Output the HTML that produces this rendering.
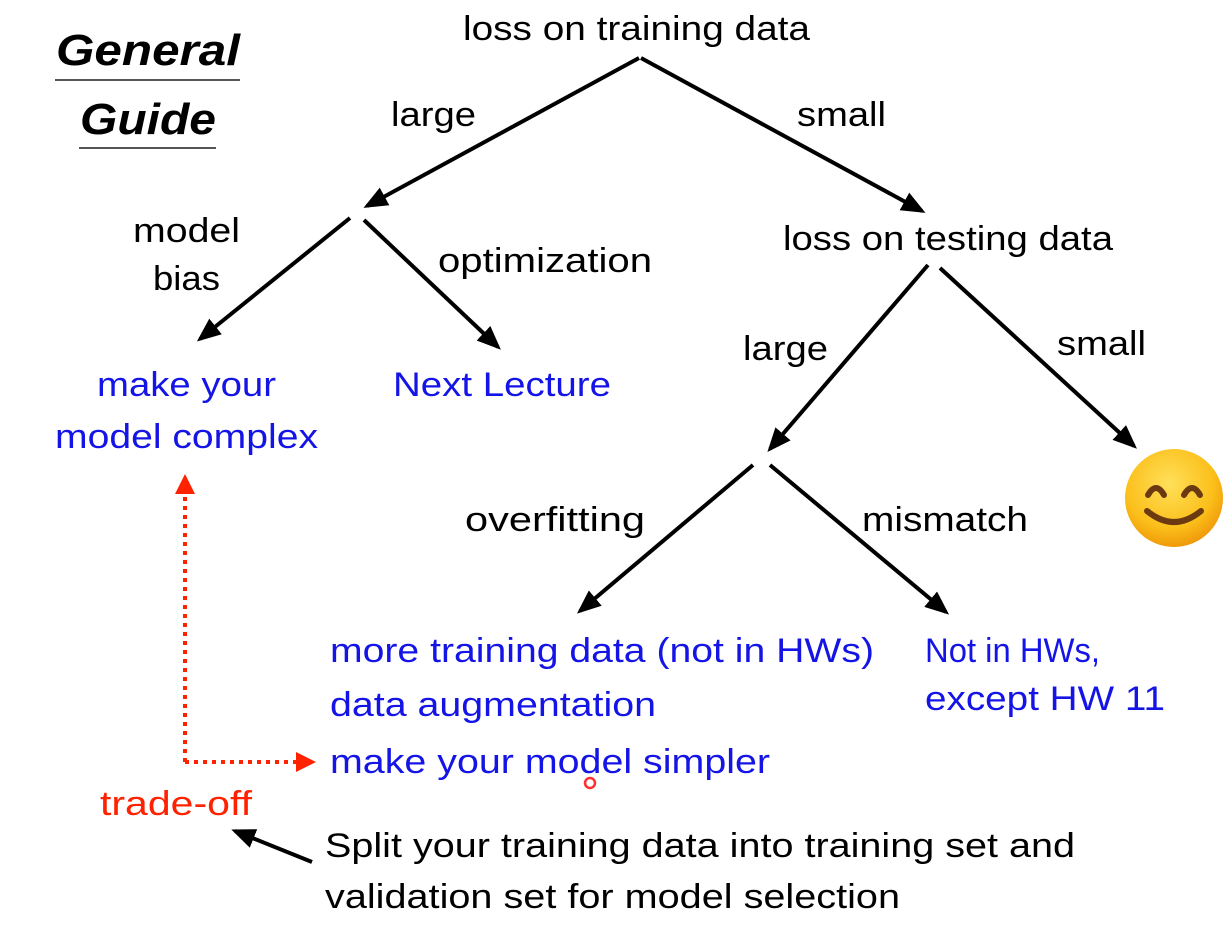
<!DOCTYPE html>
<html><head><meta charset="utf-8"><style>
html,body{margin:0;padding:0;background:#fff;}
svg{display:block;}
text{font-family:"Liberation Sans",sans-serif;}
</style></head><body>
<svg width="1229" height="932" viewBox="0 0 1229 932" xmlns="http://www.w3.org/2000/svg">
<defs>
<marker id="ah" markerWidth="6" markerHeight="6" refX="5" refY="3" orient="auto" markerUnits="strokeWidth"><path d="M0,0.5 L6,3 L0,5.5 z" fill="#000"/></marker>
<marker id="rh" markerWidth="5" markerHeight="5" refX="4" refY="2.5" orient="auto" markerUnits="strokeWidth"><path d="M0,0 L5,2.5 L0,5 z" fill="#ff2200"/></marker>
<radialGradient id="eg" cx="45%" cy="35%" r="65%"><stop offset="0" stop-color="#ffe05a"/><stop offset="0.7" stop-color="#fbbf1a"/><stop offset="1" stop-color="#f09a0a"/></radialGradient>
</defs>
<!-- title -->
<text x="56" y="65" font-size="44" font-weight="bold" font-style="italic" textLength="184" lengthAdjust="spacingAndGlyphs">General</text>
<line x1="55" y1="80" x2="240" y2="80" stroke="#555" stroke-width="2"/>
<text x="80" y="134" font-size="44" font-weight="bold" font-style="italic" textLength="136" lengthAdjust="spacingAndGlyphs">Guide</text>
<line x1="79" y1="148" x2="216" y2="148" stroke="#555" stroke-width="2"/>

<g font-size="34" fill="#000">
<text x="463" y="40" textLength="347" lengthAdjust="spacingAndGlyphs">loss on training data</text>
<text x="391" y="126" textLength="85" lengthAdjust="spacingAndGlyphs">large</text>
<text x="797" y="126" textLength="89" lengthAdjust="spacingAndGlyphs">small</text>
<text x="133" y="242" textLength="107" lengthAdjust="spacingAndGlyphs">model</text>
<text x="153" y="290" textLength="67" lengthAdjust="spacingAndGlyphs">bias</text>
<text x="438" y="272" textLength="214" lengthAdjust="spacingAndGlyphs">optimization</text>
<text x="783" y="250" textLength="330" lengthAdjust="spacingAndGlyphs">loss on testing data</text>
<text x="743" y="360" textLength="85" lengthAdjust="spacingAndGlyphs">large</text>
<text x="1057" y="355" textLength="89" lengthAdjust="spacingAndGlyphs">small</text>
<text x="465" y="531" textLength="180" lengthAdjust="spacingAndGlyphs">overfitting</text>
<text x="862" y="531" textLength="166" lengthAdjust="spacingAndGlyphs">mismatch</text>
<text x="325" y="857" textLength="750" lengthAdjust="spacingAndGlyphs">Split your training data into training set and</text>
<text x="325" y="908" textLength="575" lengthAdjust="spacingAndGlyphs">validation set for model selection</text>
</g>
<g font-size="34" fill="#1414e6">
<text x="97" y="396" textLength="179" lengthAdjust="spacingAndGlyphs">make your</text>
<text x="55" y="448" textLength="263" lengthAdjust="spacingAndGlyphs">model complex</text>
<text x="393" y="396" textLength="218" lengthAdjust="spacingAndGlyphs">Next Lecture</text>
<text x="330" y="662" textLength="544" lengthAdjust="spacingAndGlyphs">more training data (not in HWs)</text>
<text x="330" y="716" textLength="326" lengthAdjust="spacingAndGlyphs">data augmentation</text>
<text x="330" y="773" textLength="440" lengthAdjust="spacingAndGlyphs">make your model simpler</text>
<text x="925" y="662" textLength="175" lengthAdjust="spacingAndGlyphs">Not in HWs,</text>
<text x="925" y="710" textLength="240" lengthAdjust="spacingAndGlyphs">except HW 11</text>
</g>
<text x="100" y="815" font-size="34" fill="#ff2200" textLength="152" lengthAdjust="spacingAndGlyphs">trade-off</text>

<g stroke="#000" stroke-width="4" fill="none" marker-end="url(#ah)">
<line x1="639" y1="58" x2="367" y2="206"/>
<line x1="641" y1="58" x2="922" y2="211"/>
<line x1="350" y1="218" x2="200" y2="339"/>
<line x1="364" y1="220" x2="498" y2="347"/>
<line x1="928" y1="265" x2="770" y2="449"/>
<line x1="940" y1="268" x2="1134" y2="446"/>
<line x1="753" y1="465" x2="580" y2="611"/>
<line x1="770" y1="465" x2="946" y2="612"/>
<line x1="312" y1="862" x2="235" y2="831"/>
</g>
<g stroke="#ff2200" stroke-width="4" fill="none" stroke-dasharray="4,5">
<polyline points="185,762 185,478" marker-end="url(#rh)"/>
<line x1="185" y1="762" x2="312" y2="762" marker-end="url(#rh)"/>
</g>
<circle cx="590" cy="783" r="5" fill="none" stroke="#ff3030" stroke-width="2.5"/>

<!-- emoji -->
<circle cx="1174" cy="498" r="49" fill="url(#eg)"/>
<path d="M1148,495 q8,-14 16,0" stroke="#6b3a10" stroke-width="6" fill="none" stroke-linecap="round"/>
<path d="M1184,495 q8,-14 16,0" stroke="#6b3a10" stroke-width="6" fill="none" stroke-linecap="round"/>
<path d="M1147,511 q27,22 54,0" stroke="#6b3a10" stroke-width="6" fill="none" stroke-linecap="round"/>
</svg>
</body></html>
